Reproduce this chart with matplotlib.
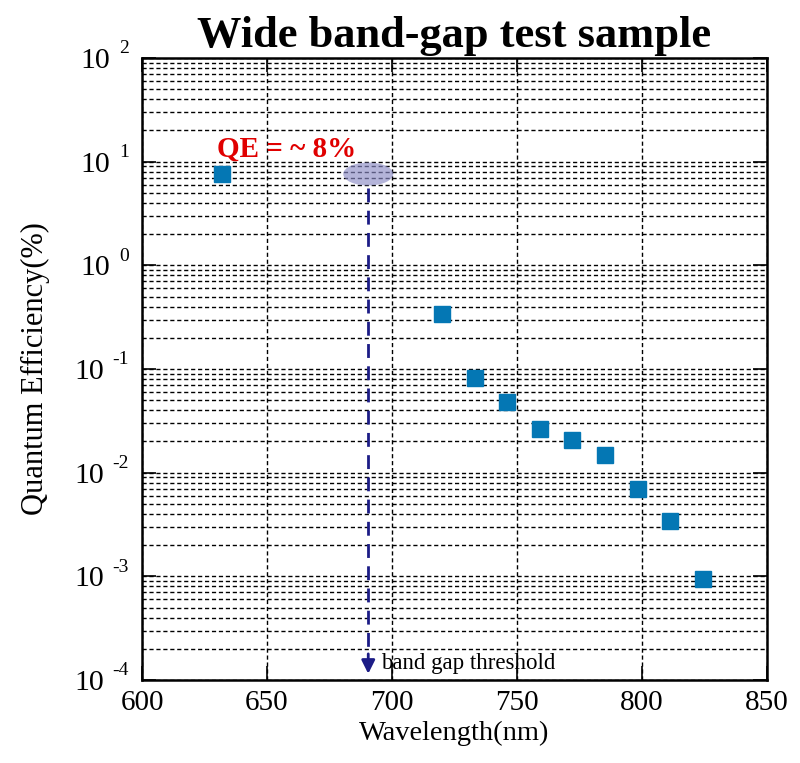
import numpy as np
import matplotlib
matplotlib.use("Agg")
import matplotlib.pyplot as plt
from matplotlib.patches import Ellipse
from matplotlib.ticker import LogLocator, NullFormatter

plt.rcParams['font.family'] = ['Liberation Serif', 'DejaVu Serif']

# data
wavelength = [632, 720, 733, 746, 759, 772, 785, 798.5, 811, 824.5]
qe = [7.6, 0.337, 0.0815, 0.048, 0.0262, 0.0206, 0.0148, 0.0069, 0.0034, 0.00094]

threshold_nm = 690.5
threshold_qe = 7.6
decades = [2, 1, 0, -1, -2, -3, -4]
xticks = [600, 650, 700, 750, 800, 850]
title = "Wide band-gap test sample"
note = "QE = ~ 8%"

fig = plt.figure(figsize=(8, 7.63), dpi=100)
ax = fig.add_axes([0.1775, 0.1088, 0.78125, 0.8152])

ax.set_yscale('log')
ax.set_xlim(600, 850)
ax.set_ylim(1e-4, 1e2)
ax.set_xticks(xticks)
ax.yaxis.set_major_locator(LogLocator(base=10, numticks=10))
ax.yaxis.set_minor_locator(LogLocator(base=10, subs=np.arange(2, 10), numticks=10))
ax.yaxis.set_minor_formatter(NullFormatter())
ax.yaxis.set_major_formatter(NullFormatter())

ax.grid(True, which='major', axis='both', color='black', linestyle=(0, (3, 2)), linewidth=1)
ax.grid(True, which='minor', axis='y', color='black', linestyle=(0, (3, 2)), linewidth=1)
ax.tick_params(which='both', direction='in', top=True, right=True, labelsize=21)
ax.tick_params(which='major', length=10, width=1.2)
ax.tick_params(which='minor', length=0)
ax.tick_params(axis='x', pad=7)
for s in ax.spines.values():
    s.set_linewidth(1.8)

# y tick labels drawn by hand: "10" and a raised exponent with a plain hyphen
ytr = ax.get_yaxis_transform()
for d in decades:
    exp = str(d)
    w_exp = 8 if d >= 0 else 14
    ax.annotate(exp, xy=(0, 10.0 ** d), xycoords=ytr, xytext=(-13, 9),
                textcoords='offset pixels', ha='right', va='center', fontsize=14)
    ax.annotate("10", xy=(0, 10.0 ** d), xycoords=ytr, xytext=(-13 - w_exp - 11, -3),
                textcoords='offset pixels', ha='right', va='center', fontsize=21.5)

ax.plot(wavelength, qe, 's', color='#0477b4', markersize=11, zorder=5)

# ellipse is drawn in axes-fraction y because the axis is log
yfrac = (np.log10(threshold_qe) + 4) / 6
ell = Ellipse((threshold_nm, yfrac), width=20, height=0.037,
              transform=ax.get_xaxis_transform(), color='#8c8cc6', alpha=0.65,
              lw=0, zorder=4)
ax.add_patch(ell)

ax.plot([threshold_nm, threshold_nm], [5.6, 1.8e-4], color='#1c1c86',
        linestyle=(0, (5, 3)), linewidth=2, zorder=4)
ax.annotate('', xy=(threshold_nm, 1.08e-4), xytext=(threshold_nm, 1.9e-4),
            arrowprops=dict(arrowstyle='-|>', color='#1c1c86', lw=2,
                            mutation_scale=20), zorder=4)

ax.text(630, 13.2, note, color='#e00000', fontsize=21, fontweight='bold', ha='left', va='center')
ax.text(695.5, 1.45e-4, "band gap threshold", fontsize=16.5, ha='left', va='center')

ax.set_title(title, fontsize=32, fontweight='bold', pad=8)
ax.set_xlabel("Wavelength(nm)", fontsize=20.5)
ax.xaxis.set_label_coords(0.5, -0.066)
ax.set_ylabel("Quantum Efficiency(%)", fontsize=22)
ax.yaxis.set_label_coords(-0.147, 0.5)

fig.savefig("out.png", dpi=100)
